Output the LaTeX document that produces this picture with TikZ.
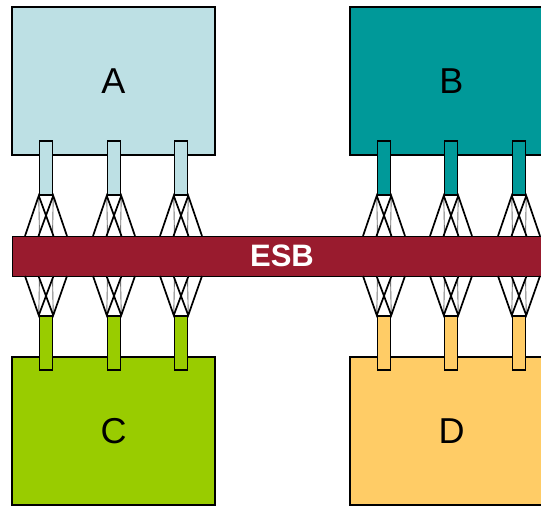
\documentclass[tikz,border=0pt]{standalone}
\usepackage{fontspec}
\setmainfont{Liberation Sans}
\definecolor{cA}{HTML}{BDE0E4}
\definecolor{cB}{HTML}{009999}
\definecolor{cC}{HTML}{99CC00}
\definecolor{cD}{HTML}{FFCC66}
\definecolor{cBus}{HTML}{991B2E}
\tikzset{
  bigbox/.style={draw=black, line width=1.4pt, minimum width=203pt, minimum height=148pt, inner sep=0pt, font=\fontsize{36}{36}\selectfont},
  port/.style={draw=black, line width=1.5pt, minimum width=13pt, minimum height=54pt, inner sep=0pt},
  bus/.style={draw=black, line width=1pt, fill=cBus, minimum width=540pt, minimum height=40pt, inner sep=0pt, text=white, font=\fontsize{31}{31}\selectfont\bfseries},
  wire/.style={draw=black, line width=1.7pt},
  guide/.style={draw=black!55, line width=0.9pt}
}
\begin{document}
\begin{tikzpicture}[x=1pt,y=-1pt]
\useasboundingbox (0,0) rectangle (541,506);
\clip (0,0) rectangle (541,506);
\node[bigbox, fill=cA] (A) at (113.5,81) {A};
\node[bigbox, fill=cB] (B) at (451.5,81) {B};
\node[bigbox, fill=cC] (C) at (113.5,431) {C};
\node[bigbox, fill=cD] (D) at (451.5,431) {D};
\node[bus] (bus) at (282,256) {ESB};
% upper ports
\foreach \n/\x/\c in {a1/46/cA, a2/114/cA, a3/181/cA, b1/384/cB, b2/451/cB, b3/519/cB} {
  \node[port, fill=\c] (\n) at (\x,168) {};
  \coordinate (\n-ol) at (\x-21,236);
  \coordinate (\n-il) at (\x-7.5,236);
  \coordinate (\n-ir) at (\x+7.5,236);
  \coordinate (\n-or) at (\x+21,236);
  \coordinate (\n-vl) at (\x-6.5,236);
  \coordinate (\n-vr) at (\x+6.5,236);
  \draw[guide] (\n.south west) -- (\n-vl);
  \draw[guide] (\n.south east) -- (\n-vr);
  \draw[wire] (\n-ol) -- (\n.south west) -- (\n-ir);
  \draw[wire] (\n-or) -- (\n.south east) -- (\n-il);
}
% lower ports
\foreach \n/\x/\c in {c1/46/cC, c2/114/cC, c3/181/cC, d1/384/cD, d2/451/cD, d3/519/cD} {
  \node[port, fill=\c] (\n) at (\x,343) {};
  \coordinate (\n-ol) at (\x-21,276);
  \coordinate (\n-il) at (\x-7.5,276);
  \coordinate (\n-ir) at (\x+7.5,276);
  \coordinate (\n-or) at (\x+21,276);
  \coordinate (\n-vl) at (\x-6.5,276);
  \coordinate (\n-vr) at (\x+6.5,276);
  \draw[guide] (\n.north west) -- (\n-vl);
  \draw[guide] (\n.north east) -- (\n-vr);
  \draw[wire] (\n-ol) -- (\n.north west) -- (\n-ir);
  \draw[wire] (\n-or) -- (\n.north east) -- (\n-il);
}
\end{tikzpicture}
\end{document}
